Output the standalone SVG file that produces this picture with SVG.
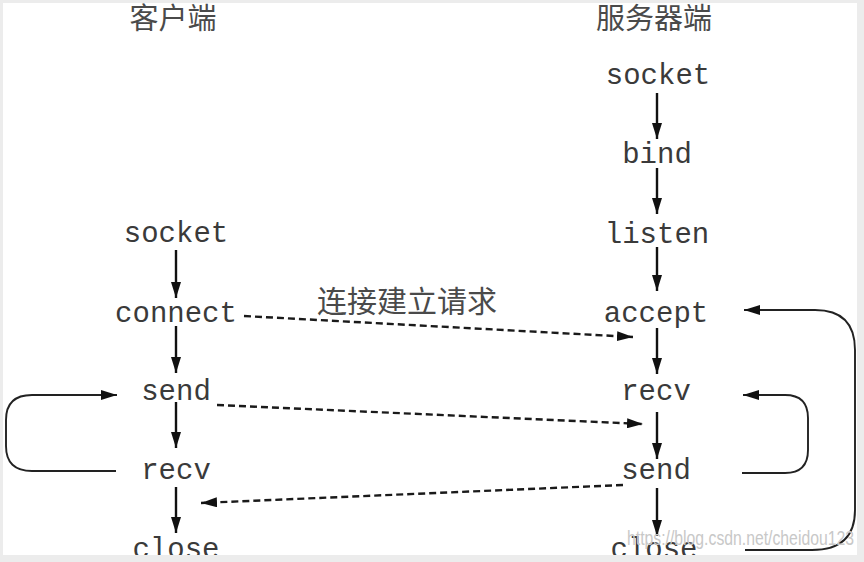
<svg xmlns="http://www.w3.org/2000/svg" width="864" height="562" viewBox="0 0 864 562">
<defs>
<style>
.mono{font-family:"Liberation Mono","Courier New",monospace;font-size:29px;fill:#3a3a3a;text-anchor:middle}
.cjk{font-family:"Noto Sans CJK SC","Noto Sans",sans-serif;font-size:29px;fill:#4a4a4a;text-anchor:middle}
.solid{fill:none;stroke:#111;stroke-width:2.4}
.loop{fill:none;stroke:#222;stroke-width:1.9}
.dash{fill:none;stroke:#1a1a1a;stroke-width:2.4;stroke-dasharray:7 4}
.wm{font-family:"Liberation Sans",Arial,sans-serif;font-size:20px;fill:#c8c8c8}
</style>
<marker id="ah" viewBox="0 0 16 10" refX="16" refY="5" markerWidth="16" markerHeight="10" markerUnits="userSpaceOnUse" orient="auto">
<path d="M0,0 L16,5 L0,10 Z" fill="#111" stroke="none"/>
</marker>
</defs>
<rect x="0" y="0" width="864" height="562" fill="#ffffff"/>

<g id="title-client"><text class="cjk" x="173" y="29">客户端</text></g>
<g id="title-server"><text class="cjk" x="654" y="29">服务器端</text></g>

<g id="c-socket"><text class="mono" x="176" y="242">socket</text></g>
<g id="c-connect"><text class="mono" x="176" y="322">connect</text></g>
<g id="c-send"><text class="mono" x="176" y="400">send</text></g>
<g id="c-recv"><text class="mono" x="176" y="479">recv</text></g>
<g id="c-close"><text class="mono" x="176" y="558">close</text></g>

<g id="s-socket"><text class="mono" x="658" y="84">socket</text></g>
<g id="s-bind"><text class="mono" x="657" y="163">bind</text></g>
<g id="s-listen"><text class="mono" x="657" y="243">listen</text></g>
<g id="s-accept"><text class="mono" x="656" y="322">accept</text></g>
<g id="s-recv"><text class="mono" x="656" y="400">recv</text></g>
<g id="s-send"><text class="mono" x="656" y="479">send</text></g>
<g id="s-close"><text class="mono" x="654" y="558">close</text></g>

<g id="label-connect"><text class="cjk" x="407" y="312" style="font-size:30px">连接建立请求</text></g>

<g id="connectors">
<path class="solid" d="M176,250 V298" marker-end="url(#ah)"/>
<path class="solid" d="M176,326 V373" marker-end="url(#ah)"/>
<path class="solid" d="M176,402 V448" marker-end="url(#ah)"/>
<path class="solid" d="M176,487 V533" marker-end="url(#ah)"/>

<path class="solid" d="M657,93 V139" marker-end="url(#ah)"/>
<path class="solid" d="M657,168 V214" marker-end="url(#ah)"/>
<path class="solid" d="M657,247 V291" marker-end="url(#ah)"/>
<path class="solid" d="M657,328 V374" marker-end="url(#ah)"/>
<path class="solid" d="M657,412 V459" marker-end="url(#ah)"/>
<path class="solid" d="M657,488 V536" marker-end="url(#ah)"/>

<path class="dash" d="M244,316 L633,337" marker-end="url(#ah)"/>
<path class="dash" d="M217,405 L643,424" marker-end="url(#ah)"/>
<path class="dash" d="M623,485 L201,503" marker-end="url(#ah)"/>

<path class="loop" d="M116,471 H32 Q6,471 6,446 V420 Q6,395 32,395 H117" marker-end="url(#ah)"/>
<path class="loop" d="M742,473 H785 Q808,473 808,450 V418 Q808,395 785,395 H743" marker-end="url(#ah)"/>
<path class="loop" d="M745,550 H812 Q855,550 855,510 V350 Q855,310 815,310 H744" marker-end="url(#ah)"/>
</g>

<g id="watermark"><text class="wm" x="627" y="545" textLength="227" lengthAdjust="spacingAndGlyphs">https://blog.csdn.net/cheidou123</text></g>

<path d="M0,0 H864 V562 H0 Z M3,3 V555 H857 V3 Z" fill="#ececec" fill-rule="evenodd"/>
</svg>
